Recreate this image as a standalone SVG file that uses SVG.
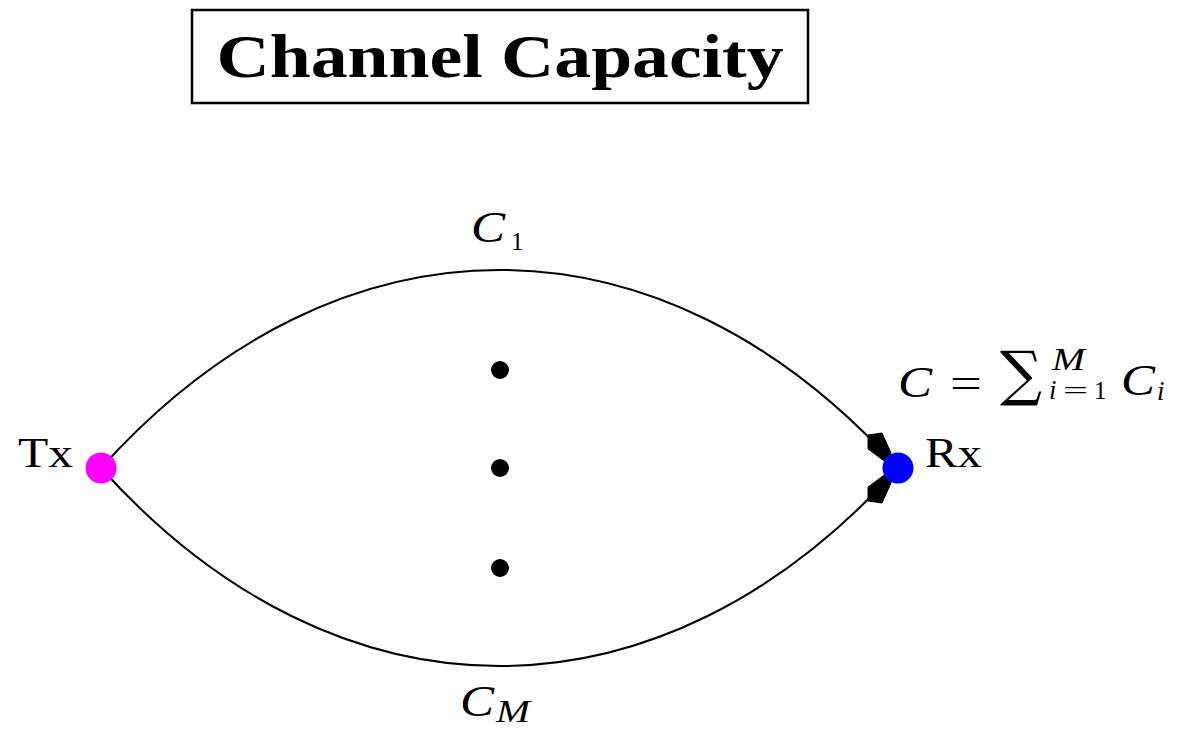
<svg xmlns="http://www.w3.org/2000/svg" width="1180" height="729" viewBox="0 0 1180 729">
<style>
.edge{fill:none;stroke:#000;stroke-width:2}
.arrow{fill:#000;stroke:#000;stroke-width:1;stroke-linejoin:round}
.lbl{font-family:"Liberation Serif","DejaVu Serif",serif;font-size:42px;fill:#000}
.math{font-family:"Liberation Serif","DejaVu Serif",serif;font-style:italic;font-size:45px;fill:#000}
.sub{font-family:"Liberation Serif","DejaVu Serif",serif;font-size:25px;fill:#000}
.subi{font-family:"Liberation Serif","DejaVu Serif",serif;font-style:italic;font-size:27px;fill:#000}
.subm{font-family:"Liberation Serif","DejaVu Serif",serif;font-style:italic;font-size:31px;fill:#000}
.dot{fill:#000}
</style>
<rect width="1180" height="729" fill="#fff"/>
<g id="title">
<rect x="192" y="10" width="616" height="93" fill="#fff" stroke="#000" stroke-width="2.5"/>
<text x="500" y="77" text-anchor="middle" font-family="Liberation Serif, DejaVu Serif, serif" font-weight="bold" font-size="62" textLength="567" lengthAdjust="spacingAndGlyphs">Channel Capacity</text>
</g>
<g id="connectors">
<path id="c1" class="edge" d="M101,468 C338.7,204 660.3,204 898,468"/>
<path id="cM" class="edge" d="M101,468 C338.7,732 660.3,732 898,468"/>
<polygon class="arrow" points="868,435 882,433 891,453 887,463 868,449"/>
<polygon class="arrow" points="868,501 882,503 891,483 887,473 868,487"/>
</g>
<g id="dots">
<circle class="dot" cx="500" cy="370" r="9"/>
<circle class="dot" cx="500" cy="468" r="9"/>
<circle class="dot" cx="500" cy="568" r="9"/>
</g>
<g id="tx">
<circle cx="101" cy="468" r="15.5" fill="#ff00ff"/>
<text class="lbl" x="18" y="467" textLength="55" lengthAdjust="spacingAndGlyphs">Tx</text>
</g>
<g id="rx">
<circle cx="898" cy="468" r="15.5" fill="#0000ff"/>
<text class="lbl" x="925" y="467" textLength="57" lengthAdjust="spacingAndGlyphs">Rx</text>
</g>
<g id="label-c1">
<text class="math" x="471" y="242" textLength="34" lengthAdjust="spacingAndGlyphs">C</text>
<text class="sub" x="511" y="250">1</text>
</g>
<g id="label-cM">
<text class="math" x="460" y="716" textLength="34" lengthAdjust="spacingAndGlyphs">C</text>
<text class="subm" x="496" y="722" textLength="34" lengthAdjust="spacingAndGlyphs">M</text>
</g>
<g id="label-sum">
<text class="math" x="898" y="397" textLength="34" lengthAdjust="spacingAndGlyphs">C</text>
<text class="lbl" x="950" y="397" textLength="32" lengthAdjust="spacingAndGlyphs">=</text>
<text font-family="DejaVu Serif, Liberation Serif, serif" font-size="60" x="1000" y="394" textLength="42" lengthAdjust="spacingAndGlyphs">∑</text>
<text class="subm" x="1052" y="370" textLength="33" lengthAdjust="spacingAndGlyphs">M</text>
<text class="subi" x="1049" y="399">i</text>
<text class="sub" x="1063" y="399" textLength="25" lengthAdjust="spacingAndGlyphs">=</text>
<text class="sub" x="1094" y="399">1</text>
<text class="math" x="1121" y="395" textLength="34" lengthAdjust="spacingAndGlyphs">C</text>
<text class="subi" x="1157" y="400">i</text>
</g>
</svg>
